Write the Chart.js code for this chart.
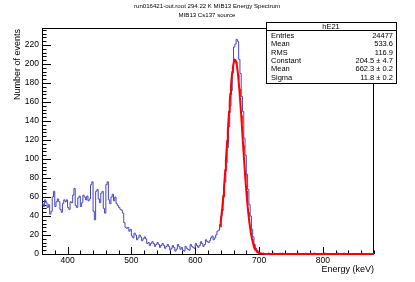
<!DOCTYPE html>
<html>
<head>
<meta charset="utf-8">
<script src="https://cdn.jsdelivr.net/npm/chart.js@4.4.1/dist/chart.umd.min.js"></script>
<style>
html, body { margin: 0; padding: 0; background: #fff; }
</style>
</head>
<body>
<canvas id="c" width="415" height="282"></canvas>
<script>
const titleLines = ["run016421-out.root 294.22 K MIB13 Energy Spectrum", "MIB13 Cs137 source"];
const xTitle = "Energy (keV)";
const yTitle = "Number of events";

// histogram: 2 keV bins from 360 keV
const binLow = 360;
const binWidth = 2;
const counts = [
    53, 50, 57, 54, 49, 52, 42, 45, 60, 66,
    50, 55, 58, 55, 47, 44, 53, 57, 55, 57,
    49, 47, 55, 54, 62, 69, 51, 49, 59, 61,
    50, 54, 62, 60, 57, 61, 56, 58, 73, 76,
    45, 36, 66, 68, 58, 54, 64, 66, 48, 43,
    73, 76, 57, 53, 60, 63, 56, 60, 53, 51,
    49, 47, 46, 43, 33, 28, 27, 28, 24, 26,
    19, 17, 22, 20, 15, 17, 20, 18, 14, 16,
    18, 16, 11, 12, 9, 11, 13, 11, 8, 10,
    12, 10, 7, 9, 11, 9, 6, 8, 10, 8,
    4, 6, 9, 7, 3, 5, 10, 8, 5, 7,
    4, 3, 8, 6, 5, 4, 10, 8, 7, 6,
    11, 9, 7, 9, 13, 11, 8, 10, 15, 13,
    12, 14, 17, 19, 15, 17, 20, 24, 25, 31,
    40, 52, 60, 76, 96, 112, 134, 156, 172, 192,
    218, 221, 226, 224, 205, 190, 166, 150, 122, 104,
    84, 68, 52, 40, 26, 18, 10, 6, 4, 2,
    1, 1, 0, 1, 0, 0, 0, 1, 0, 0,
    0, 1, 0, 0, 0, 0, 1, 0, 1, 0,
    0, 0, 0, 0, 0, 0, 0, 0, 0, 0,
    1, 0, 0, 0, 0, 0, 1, 0, 0, 0,
    1, 0, 0, 1, 0, 0, 0, 0, 0, 0,
    0, 1, 0, 0, 0, 0, 0, 0, 0, 0,
    0, 1, 0, 0, 0, 0, 1, 0, 0, 0,
    0, 0, 0, 0, 0, 0, 0, 0, 0, 0,
    1, 0, 0, 0, 0, 0, 0, 0, 0, 0
];

// gaussian fit as given in the stats box
const fitParams = [204.5, 662.3, 11.8];
const fitRange = [639, 880];

const statsName = "hE21";
const statsLabels = ["Entries", "Mean", "RMS", "Constant", "Mean", "Sigma"];
const statsValues = ["24477", "533.6", "116.9", "204.5 \u00b1 4.7", "662.3 \u00b1 0.2", "11.8 \u00b1 0.2"];

const xTicks = [400, 500, 600, 700, 800];
const yTicks = [0, 20, 40, 60, 80, 100, 120, 140, 160, 180, 200, 220];
const xRange = [360, 880];
const yMax = 238;

const FONT = "'Liberation Sans', Arial, sans-serif";

const histPoints = counts.map((c, i) => ({ x: binLow + i * binWidth, y: c }));
histPoints.push({ x: binLow + counts.length * binWidth, y: counts[counts.length - 1] });

const fitPoints = [];
for (let e = fitRange[0]; e <= fitRange[1]; e += 1) {
    const z = (e - fitParams[1]) / fitParams[2];
    fitPoints.push({ x: e, y: fitParams[0] * Math.exp(-0.5 * z * z) });
}

const rootFrame = {
    id: "rootFrame",
    beforeDatasetsDraw(chart) {
        const { ctx, chartArea: a, scales: { x, y } } = chart;
        ctx.save();
        ctx.strokeStyle = "#000";
        ctx.lineWidth = 1;
        ctx.strokeRect(a.left + 0.5, a.top + 0.5, a.right - a.left - 1, a.bottom - a.top);
        ctx.beginPath();
        for (let v = xRange[0]; v <= xRange[1]; v += 20) {
            const px = Math.round(x.getPixelForValue(v)) + 0.5;
            const len = v % 100 === 0 ? 7 : 3.5;
            ctx.moveTo(px, a.bottom);
            ctx.lineTo(px, a.bottom - len);
        }
        for (let v = 0; v < yMax; v += 4) {
            const py = Math.round(y.getPixelForValue(v)) + 0.5;
            const len = v % 20 === 0 ? 9 : 4.5;
            ctx.moveTo(a.left, py);
            ctx.lineTo(a.left + len, py);
        }
        ctx.stroke();
        ctx.restore();
    },
    afterDraw(chart) {
        const { ctx, chartArea: a } = chart;
        ctx.save();
        ctx.fillStyle = "#000";

        // title
        ctx.font = "6.1px " + FONT;
        ctx.textAlign = "center";
        ctx.textBaseline = "middle";
        ctx.fillText(titleLines[0], 207, 6);
        ctx.fillText(titleLines[1], 207, 15);

        // axis titles
        ctx.font = "9px " + FONT;
        ctx.textAlign = "right";
        ctx.fillText(xTitle, a.right, 269.5);
        ctx.save();
        ctx.translate(18, a.top + 1);
        ctx.rotate(-Math.PI / 2);
        ctx.textAlign = "right";
        ctx.fillText(yTitle, 0, 0);
        ctx.restore();

        // stats box
        const bx = 266, by = 22, bw = 130, bh = 61;
        ctx.fillStyle = "#fff";
        ctx.fillRect(bx, by, bw, bh);
        ctx.strokeStyle = "#000";
        ctx.lineWidth = 1;
        ctx.strokeRect(bx + 0.5, by + 0.5, bw, bh);
        ctx.beginPath();
        ctx.moveTo(bx, by + 8.5);
        ctx.lineTo(bx + bw, by + 8.5);
        ctx.stroke();
        ctx.fillStyle = "#000";
        ctx.font = "7.5px " + FONT;
        ctx.textAlign = "center";
        ctx.fillText(statsName, bx + bw / 2, by + 4.6);
        statsLabels.forEach((lab, i) => {
            const ty = 36 + i * 8.3;
            ctx.textAlign = "left";
            ctx.fillText(lab, bx + 5, ty);
            ctx.textAlign = "right";
            ctx.fillText(statsValues[i], bx + bw - 3, ty);
        });
        ctx.restore();
    }
};

new Chart(document.getElementById("c"), {
    type: "line",
    data: {
        datasets: [
            {
                label: "fit",
                data: fitPoints,
                borderColor: "#ff0000",
                borderWidth: 2,
                pointRadius: 0,
                fill: false,
                clip: false,
                order: 0
            },
            {
                label: statsName,
                data: histPoints,
                borderColor: "#4646c4",
                borderWidth: 1,
                pointRadius: 0,
                stepped: "before",
                fill: false,
                order: 1
            }
        ]
    },
    options: {
        responsive: false,
        animation: false,
        events: [],
        layout: { padding: { top: 28, right: 41, left: 0, bottom: 0 } },
        plugins: {
            legend: { display: false },
            tooltip: { enabled: false },
            title: { display: false }
        },
        scales: {
            x: {
                type: "linear",
                min: xRange[0],
                max: xRange[1],
                grid: { display: false, drawTicks: false },
                border: { display: false },
                afterBuildTicks: s => { s.ticks = xTicks.map(v => ({ value: v })); },
                afterFit: s => { s.height = 28; },
                ticks: {
                    padding: 2,
                    maxRotation: 0,
                    color: "#000",
                    font: { family: FONT, size: 8.5 }
                }
            },
            y: {
                type: "linear",
                min: 0,
                max: yMax,
                grid: { display: false, drawTicks: false },
                border: { display: false },
                afterBuildTicks: s => { s.ticks = yTicks.map(v => ({ value: v })); },
                afterFit: s => { s.width = 42; },
                ticks: {
                    padding: 3,
                    color: "#000",
                    font: { family: FONT, size: 8.5 }
                }
            }
        }
    },
    plugins: [rootFrame]
});
</script>
</body>
</html>
